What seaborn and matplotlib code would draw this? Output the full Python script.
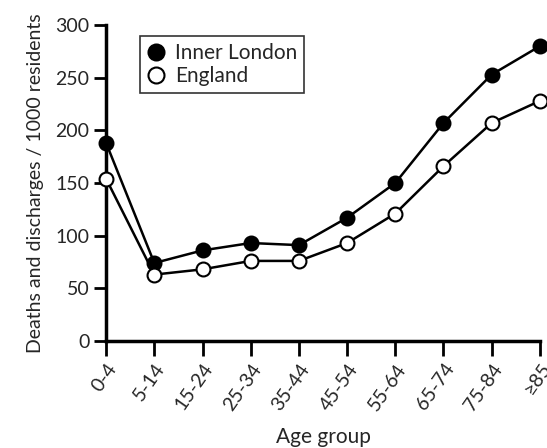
import matplotlib
matplotlib.use("Agg")
import matplotlib.pyplot as plt
import seaborn as sns
import pandas as pd
import numpy as np

age_groups = ["0-4", "5-14", "15-24", "25-34", "35-44", "45-54", "55-64", "65-74", "75-84", "≥85"]
inner_london = [188, 74, 86, 93, 91, 117, 150, 207, 253, 280]
england = [154, 63, 68, 76, 76, 93, 121, 166, 207, 228]
y_ticks = [0, 50, 100, 150, 200, 250, 300]

sns.set_style("ticks")
plt.rcParams['font.family'] = ['Lato', 'DejaVu Sans']

df = pd.DataFrame({
    "pos": list(range(len(age_groups))) * 2,
    "value": inner_london + england,
    "series": ["Inner London"] * len(age_groups) + ["England"] * len(age_groups),
})

fig = plt.figure(figsize=(5.47, 4.48), dpi=100)
ax = fig.add_axes([0.194, 0.239, 0.793, 0.705])

for name, face in [("Inner London", "black"), ("England", "white")]:
    sub = df[df["series"] == name]
    sns.lineplot(data=sub, x="pos", y="value", ax=ax, color="black", linewidth=1.8,
                 marker="o", markersize=10, markerfacecolor=face, markeredgecolor="black",
                 markeredgewidth=1.5, label=name, clip_on=False, zorder=3)

ax.set_xlim(0, len(age_groups) - 1)
ax.set_ylim(0, 300)
ax.set_yticks(y_ticks)
ax.set_yticklabels([str(t) for t in y_ticks], fontsize=14)
ax.set_xticks(range(len(age_groups)))
ax.set_xticklabels(age_groups, fontsize=14, rotation=55, ha="right",
                   rotation_mode="anchor")
ax.tick_params(axis="both", direction="out", width=2, color="black")
ax.tick_params(axis="x", length=11, pad=3)
ax.tick_params(axis="y", length=9, pad=3)
for s in ["top", "right"]:
    ax.spines[s].set_visible(False)
for s in ["left", "bottom"]:
    ax.spines[s].set_linewidth(2.5)
    ax.spines[s].set_color("black")

ax.set_xlabel("Age group", fontsize=15, labelpad=10)
ax.set_ylabel("Deaths and discharges / 1000 residents", fontsize=14, labelpad=8)

leg = ax.legend(loc="upper left", bbox_to_anchor=(0.055, 1.0), frameon=True,
                prop={"size": 15},
                fancybox=False, edgecolor="black", handlelength=0.8, handletextpad=0.5,
                borderpad=0.35, labelspacing=0.15, markerscale=1.15)
leg.get_frame().set_linewidth(1.2)
for line in leg.get_lines():
    line.set_linestyle("none")

fig.savefig("out.png", dpi=100)
